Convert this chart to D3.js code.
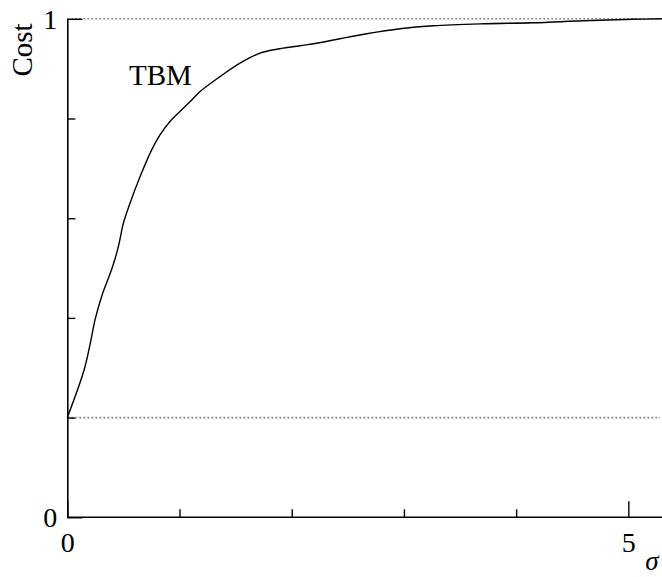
<!DOCTYPE html>
<html>
<head>
<meta charset="utf-8">
<script src="https://cdn.jsdelivr.net/npm/d3@7"></script>
<style>
  html, body { margin: 0; padding: 0; background: #fff; }
  svg { display: block; }
  text { font-family: "Liberation Serif", "Times New Roman", serif; fill: #000; }
</style>
</head>
<body>
<svg id="chart" width="662" height="577"></svg>
<script>
// ---- data ----
const sigma = [0, 0.149, 0.202, 0.247, 0.306, 0.404, 0.455, 0.50, 0.559, 0.648, 0.752, 0.826, 0.915, 1.004, 1.109,
               1.183, 1.361, 1.539, 1.717, 1.866, 2.074, 2.223, 2.43, 2.668, 2.965, 3.26, 3.71, 4.15, 4.6, 5.04, 5.3];
const cost  = [0.2, 0.295, 0.346, 0.396, 0.443, 0.503, 0.543, 0.590, 0.630, 0.683, 0.737, 0.767, 0.794, 0.814, 0.837,
               0.854, 0.884, 0.911, 0.931, 0.939, 0.946, 0.951, 0.960, 0.970, 0.980, 0.986, 0.990, 0.992, 0.996, 0.999, 1.0];
const xMinorTicks = [1, 2, 3, 4];
const xMajorTicks = [0, 5];
const yMinorTicks = [0.2, 0.4, 0.6, 0.8];
const yMajorTicks = [0, 1];
const refLines = [0.2, 1];
const seriesLabel = "TBM";
const xTitle = "σ";
const yTitle = "Cost";

// ---- layout ----
const svg = d3.select("#chart");
const x = d3.scaleLinear().domain([0, 5.3]).range([67.3, 662]);
const y = d3.scaleLinear().domain([0, 1]).range([517.3, 18.8]);

// reference dotted lines
svg.selectAll("line.ref").data(refLines).join("line")
  .attr("class", "ref")
  .attr("x1", x(0)).attr("x2", x(5.3) - 2)
  .attr("y1", d => y(d)).attr("y2", d => y(d))
  .attr("stroke", "#8a8a8a").attr("stroke-width", 1.6)
  .attr("stroke-dasharray", "2,2");

// axes
const gx = svg.append("g").attr("transform", `translate(0,${y(0)})`);
gx.call(d3.axisBottom(x).tickValues(xMinorTicks).tickSizeInner(-8).tickSizeOuter(0).tickFormat(""));
gx.call(g => g.select(".domain").remove());
const gx2 = svg.append("g").attr("transform", `translate(0,${y(0)})`);
gx2.call(d3.axisBottom(x).tickValues(xMajorTicks).tickSizeInner(-16).tickSizeOuter(0).tickFormat(d3.format("d")));
gx2.select(".domain").attr("d", `M${x(0)},0H${x(5.3)}`);

const gy = svg.append("g").attr("transform", `translate(${x(0)},0)`);
gy.call(d3.axisLeft(y).tickValues(yMinorTicks).tickSizeInner(-8).tickSizeOuter(0).tickFormat(""));
gy.call(g => g.select(".domain").remove());
const gy2 = svg.append("g").attr("transform", `translate(${x(0)},0)`);
gy2.call(d3.axisLeft(y).tickValues(yMajorTicks).tickSizeInner(-15).tickSizeOuter(0).tickFormat(d3.format("d")));

[gx, gx2, gy, gy2].forEach(g => {
  g.selectAll("line").attr("stroke", "#000").attr("stroke-width", 1.4);
  g.selectAll(".domain").attr("stroke", "#000").attr("stroke-width", 1.6);
  g.selectAll("text").style("font-size", "28px").attr("fill", "#000")
    .style("font-family", '"Liberation Serif", serif');
});
gx2.selectAll("text").attr("dy", null).attr("y", 35);
gy2.selectAll("text").attr("x", -10).attr("dy", "0.34em");

// curve
const pts = sigma.map((s, i) => [s, cost[i]]);
svg.append("path")
  .datum(pts)
  .attr("fill", "none")
  .attr("stroke", "#000")
  .attr("stroke-width", 1.4)
  .attr("d", d3.line().x(d => x(d[0])).y(d => y(d[1])).curve(d3.curveCatmullRom.alpha(0.5)));

// labels
svg.append("text").attr("x", 129).attr("y", 84.5)
  .style("font-size", "29px").text(seriesLabel);
svg.append("text").attr("transform", "translate(32,50) rotate(-90)")
  .attr("text-anchor", "middle").style("font-size", "29px").text(yTitle);
svg.append("text").attr("x", 652).attr("y", 570).attr("text-anchor", "middle")
  .style("font-size", "27px").style("font-style", "italic").text(xTitle);
</script>
</body>
</html>
